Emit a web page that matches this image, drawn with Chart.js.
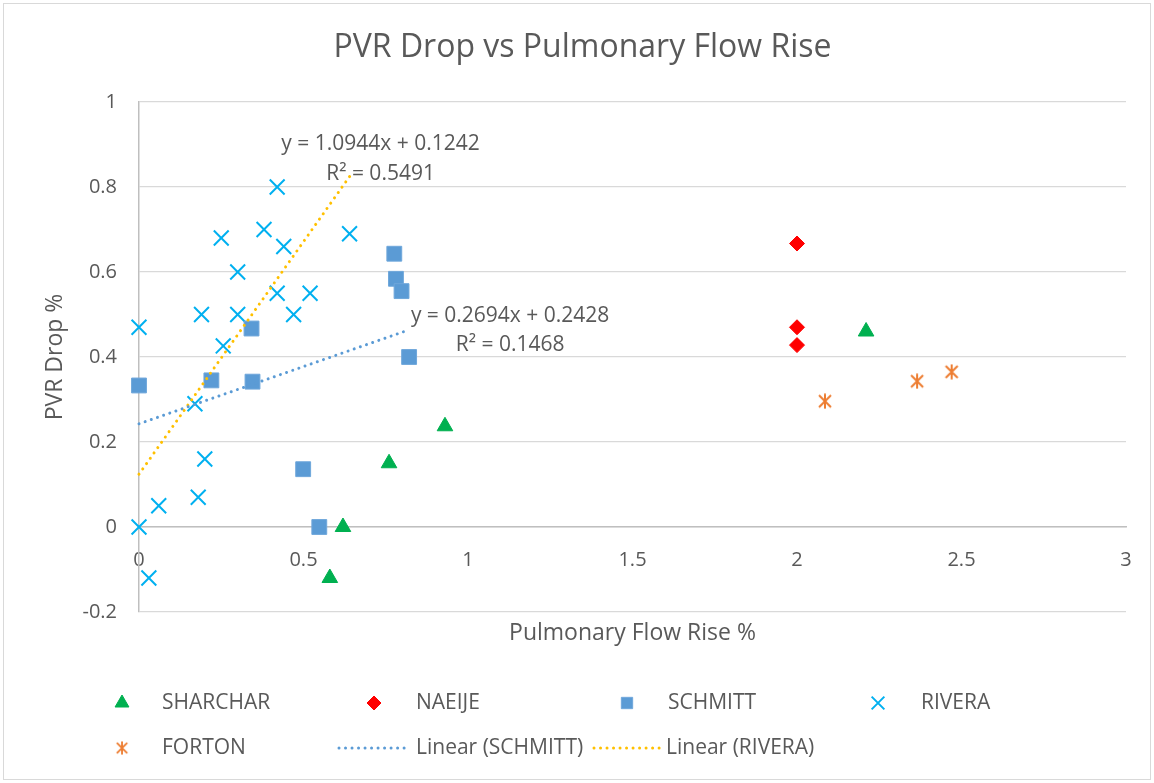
<!DOCTYPE html>
<html><head><meta charset="utf-8">
<script src="https://cdn.jsdelivr.net/npm/chart.js@4/dist/chart.umd.min.js"></script>
<style>html,body{margin:0;padding:0;background:#fff;} #wrap{position:relative;width:1154px;height:783px;} canvas{display:block;}</style>
</head><body><div id="wrap"><canvas id="c" width="1154" height="783"></canvas></div>
<script>
// ---------- DATA ----------
const chartTitle = 'PVR Drop vs Pulmonary Flow Rise';
const xAxisTitle = 'Pulmonary Flow Rise %';
const yAxisTitle = 'PVR Drop %';
const xTicks = [0, 0.5, 1, 1.5, 2, 2.5, 3];
const yTicks = [-0.2, 0, 0.2, 0.4, 0.6, 0.8, 1];

const seriesNames = ['SHARCHAR', 'NAEIJE', 'SCHMITT', 'RIVERA', 'FORTON'];

const sharcharX = [0.93, 0.76, 0.62, 0.58, 2.21];
const sharcharY = [0.237, 0.15, 0.0, -0.12, 0.46];

const naeijeX = [2, 2, 2];
const naeijeY = [0.667, 0.47, 0.428];

const schmittX = [0.776, 0.781, 0.798, 0.342, 0.821, 0, 0.22, 0.345, 0.499, 0.548];
const schmittY = [0.643, 0.584, 0.555, 0.467, 0.4, 0.333, 0.345, 0.342, 0.136, 0];

const riveraX = [0, 0.19, 0.3, 0.25, 0.3, 0.256, 0.42, 0.38, 0.44, 0.42, 0.52, 0.47, 0.64, 0.17, 0.2, 0.18, 0.06, 0, 0.03];
const riveraY = [0.47, 0.5, 0.5, 0.68, 0.6, 0.426, 0.8, 0.7, 0.66, 0.55, 0.55, 0.5, 0.69, 0.29, 0.16, 0.07, 0.05, 0, -0.12];

const fortonX = [2.085, 2.365, 2.47];
const fortonY = [0.296, 0.343, 0.365];

const schmittTrend = { slope: 0.2694, intercept: 0.2428, r2: '0.1468', eq: 'y = 0.2694x + 0.2428' };
const riveraTrend  = { slope: 1.0944, intercept: 0.1242, r2: '0.5491', eq: 'y = 1.0944x + 0.1242' };

// ---------- HELPERS ----------
const FONT = "'Open Sans', 'Noto Sans', 'DejaVu Sans', sans-serif";
const TEXT = '#595959';
const pts = (xs, ys) => xs.map((x, i) => ({ x: x, y: ys[i] }));
const trendPts = (xs, t) => {
  const lo = Math.min(...xs), hi = Math.max(...xs);
  return [{ x: lo, y: t.slope * lo + t.intercept }, { x: hi, y: t.slope * hi + t.intercept }];
};
const fmt = v => String(Math.round(v * 10) / 10);

const fortonImg = (() => {
  const c = document.createElement('canvas'); c.width = 16; c.height = 16;
  const g = c.getContext('2d'); g.strokeStyle = '#ED7D31'; g.lineWidth = 2;
  g.beginPath(); g.moveTo(2, 2); g.lineTo(14, 14); g.moveTo(14, 2); g.lineTo(2, 14);
  g.moveTo(8, 0.5); g.lineTo(8, 15.5); g.stroke();
  return c;
})();

Chart.defaults.font.family = FONT;
Chart.defaults.color = TEXT;

// ---------- PLUGINS ----------
const frame = {
  id: 'frame',
  beforeDraw(chart) {
    const c = chart.ctx; c.save();
    c.fillStyle = '#fff'; c.fillRect(0, 0, chart.width, chart.height);
    c.strokeStyle = '#D9D9D9'; c.lineWidth = 1;
    c.strokeRect(3.5, 3.5, chart.width - 7, chart.height - 7);
    c.restore();
  }
};

const trendLabels = {
  id: 'trendLabels',
  afterDatasetsDraw(chart) {
    const c = chart.ctx, xs = chart.scales.x, ys = chart.scales.y;
    const items = [
      { ds: 6, t: riveraTrend, dx: 31, dy1: -33, dy2: -3 },
      { ds: 5, t: schmittTrend, dx: 101, dy1: -14, dy2: 15 }
    ];
    c.save();
    c.font = '21px ' + FONT; c.fillStyle = TEXT; c.textAlign = 'center'; c.textBaseline = 'middle';
    items.forEach(it => {
      const d = chart.data.datasets[it.ds].data;
      const end = d[d.length - 1];
      const px = xs.getPixelForValue(end.x), py = ys.getPixelForValue(end.y);
      c.fillText(it.t.eq, px + it.dx, py + it.dy1);
      c.fillText('R\u00B2 = ' + it.t.r2, px + it.dx, py + it.dy2);
    });
    c.restore();
  }
};

const legendSlots = [
  { mx: 122, y: 703, tx: 162 }, { mx: 374, y: 703, tx: 416 }, { mx: 627, y: 703, tx: 668 },
  { mx: 878, y: 703, tx: 921 }, { mx: 122, y: 748, tx: 162 },
  { l0: 339, l1: 410, y: 748, tx: 416 }, { l0: 594, l1: 661, y: 748, tx: 666 }
];
const customLegend = {
  id: 'customLegend',
  afterDraw(chart) {
    const c = chart.ctx;
    c.save();
    chart.data.datasets.forEach((ds, i) => {
      const s = legendSlots[i];
      if (s.l0 !== undefined) {
        c.strokeStyle = ds.borderColor; c.lineWidth = 3; c.lineCap = 'round';
        c.setLineDash([0.01, 6.5]);
        c.beginPath(); c.moveTo(s.l0, s.y); c.lineTo(s.l1, s.y); c.stroke();
        c.setLineDash([]);
      } else {
        const r = ds.legendRadius;
        if (ds.pointStyle instanceof HTMLCanvasElement) {
          c.drawImage(ds.pointStyle, s.mx - 7, s.y - 7, 14, 14);
        } else {
          c.fillStyle = ds.backgroundColor; c.strokeStyle = ds.borderColor; c.lineWidth = ds.borderWidth || 1;
          Chart.helpers.drawPoint(c, { pointStyle: ds.pointStyle, radius: r, borderWidth: ds.borderWidth || 1, rotation: 0 }, s.mx, s.y);
        }
      }
      c.fillStyle = TEXT; c.font = '21px ' + FONT; c.textAlign = 'left'; c.textBaseline = 'middle';
      c.fillText(ds.label, s.tx, s.y);
    });
    c.restore();
  }
};

// ---------- CHART ----------
new Chart(document.getElementById('c'), {
  type: 'scatter',
  data: {
    datasets: [
      { label: seriesNames[0], data: pts(sharcharX, sharcharY), pointStyle: 'triangle', pointRadius: 9, legendRadius: 8,
        backgroundColor: '#00B050', borderColor: '#00B050', borderWidth: 1, order: 1, clip: false },
      { label: seriesNames[1], data: pts(naeijeX, naeijeY), pointStyle: 'rectRot', pointRadius: 7.5, legendRadius: 7,
        backgroundColor: '#FF0000', borderColor: '#FF0000', borderWidth: 1, order: 1, clip: false },
      { label: seriesNames[2], data: pts(schmittX, schmittY), pointStyle: 'rect', pointRadius: 10.5, legendRadius: 8,
        backgroundColor: '#5B9BD5', borderColor: '#6FA7DB', borderWidth: 1, order: 1, clip: false },
      { label: seriesNames[3], data: pts(riveraX, riveraY), pointStyle: 'crossRot', pointRadius: 10.5, legendRadius: 9,
        backgroundColor: '#00B0F0', borderColor: '#00B0F0', borderWidth: 2, order: 1, clip: false },
      { label: seriesNames[4], data: pts(fortonX, fortonY), pointStyle: fortonImg, pointRadius: 8, legendRadius: 7,
        backgroundColor: '#ED7D31', borderColor: '#ED7D31', borderWidth: 2, order: 1, clip: false },
      { label: 'Linear (SCHMITT)', data: trendPts(schmittX, schmittTrend), showLine: true, pointRadius: 0,
        borderColor: '#5B9BD5', backgroundColor: '#5B9BD5', borderWidth: 3, borderDash: [0.01, 6.5], borderCapStyle: 'round', fill: false, order: 0, clip: false },
      { label: 'Linear (RIVERA)', data: trendPts(riveraX, riveraTrend), showLine: true, pointRadius: 0,
        borderColor: '#FFC000', backgroundColor: '#FFC000', borderWidth: 3, borderDash: [0.01, 6.5], borderCapStyle: 'round', fill: false, order: 0, clip: false }
    ]
  },
  options: {
    responsive: false,
    animation: false,
    events: [],
    layout: { padding: { left: 11, right: 0, top: 0, bottom: 131 } },
    plugins: {
      legend: { display: false },
      tooltip: { enabled: false },
      title: { display: true, text: chartTitle, color: TEXT, font: { size: 32, weight: 'normal', family: FONT, lineHeight: 1.2 },
        padding: { top: 29, bottom: 34.6 } }
    },
    scales: {
      x: {
        type: 'linear', position: { y: 0 }, min: 0, max: 3,
        afterBuildTicks: s => { s.ticks = xTicks.map(v => ({ value: v })); },
        grid: { color: 'rgba(0,0,0,0)', drawTicks: false },
        border: { display: true, color: '#BFBFBF', width: 1.5 },
        ticks: { padding: 21, color: TEXT, font: { size: 20 }, callback: v => fmt(v), maxRotation: 0 }
      },
      x2: {
        type: 'linear', position: 'bottom', min: 0, max: 3,
        grid: { display: false, drawTicks: false }, border: { display: false },
        ticks: { display: false },
        title: { display: true, text: xAxisTitle, color: TEXT, font: { size: 23 }, padding: { top: 0, bottom: 5 } },
        afterFit: s => { s.height = 40; }
      },
      y: {
        type: 'linear', min: -0.2, max: 1,
        afterBuildTicks: s => { s.ticks = yTicks.map(v => ({ value: v })); },
        grid: { color: '#D9D9D9', lineWidth: 1.2, drawTicks: false },
        border: { display: true, color: '#BFBFBF', width: 1.5 },
        ticks: { padding: 22, color: TEXT, font: { size: 20 }, callback: v => fmt(v) },
        title: { display: true, text: yAxisTitle, color: TEXT, font: { size: 23 }, padding: { top: 31, bottom: 0 } },
        afterFit: s => { s.width = 128; }
      },
      y2: {
        type: 'linear', position: 'right', min: -0.2, max: 1,
        grid: { display: false, drawTicks: false }, border: { display: false },
        ticks: { display: false },
        afterFit: s => { s.width = 28; }
      }
    }
  },
  plugins: [frame, trendLabels, customLegend]
});
</script>
</body></html>
